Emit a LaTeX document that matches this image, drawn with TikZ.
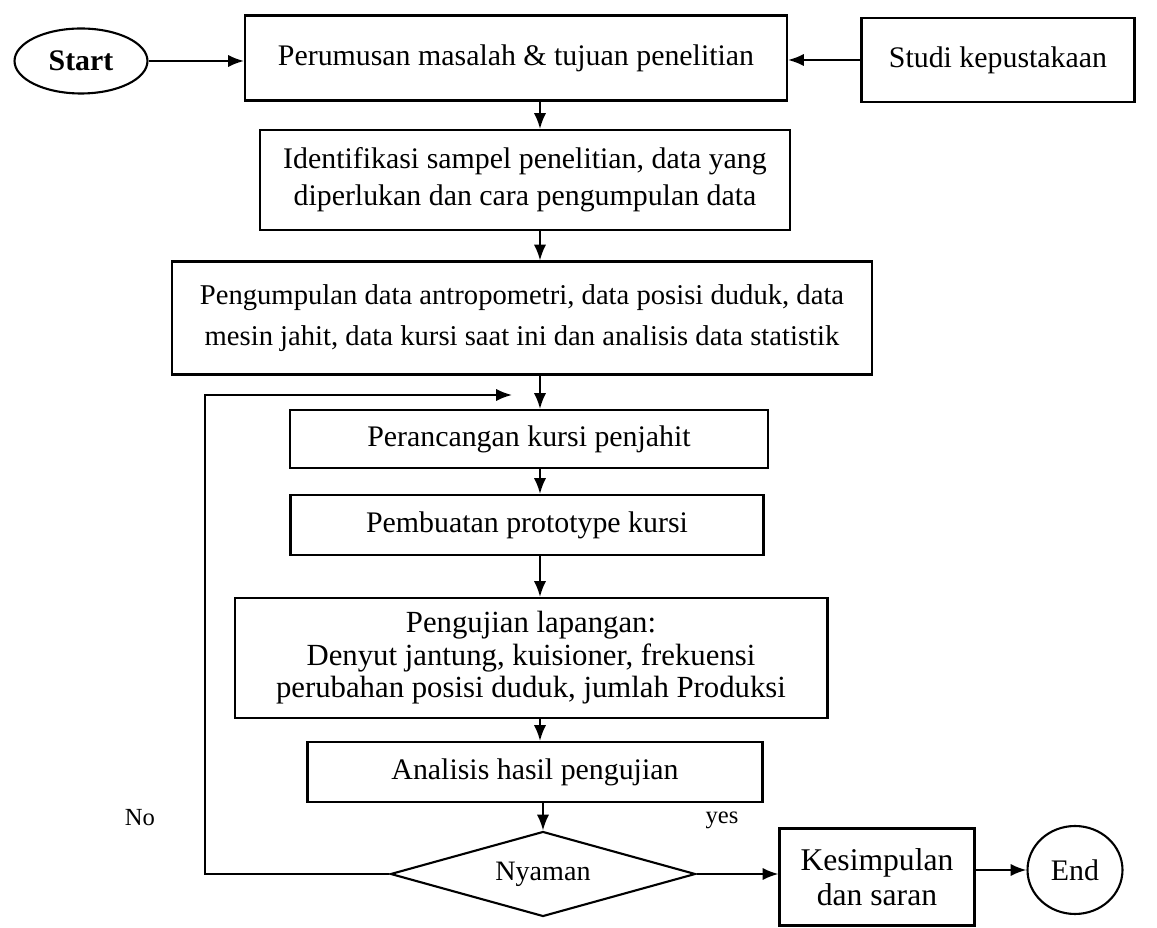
\documentclass[tikz,border=0pt]{standalone}
\usepackage{fontspec}
\setmainfont{Liberation Serif}
\usetikzlibrary{shapes.geometric,arrows.meta}
\begin{document}
\begin{tikzpicture}[x=0.02cm,y=-0.02cm,
  box/.style={draw,line width=1.2pt,align=center,inner sep=2pt,font=\fontsize{17}{21}\selectfont},
  term/.style={draw,ellipse,line width=1.2pt,inner sep=0pt,font=\fontsize{17}{20}\selectfont},
  dec/.style={draw,diamond,aspect=3.6,line width=1.2pt,inner sep=0pt,font=\fontsize{16}{19}\selectfont},
  arr/.style={line width=1.2pt,-{Latex[length=9pt,width=7pt]}},
  lbl/.style={font=\fontsize{14}{16}\selectfont}]
\useasboundingbox (0,0) rectangle (1157,928);
\coordinate (spine) at (540,0);
% terminals
\node[term,minimum width=2.66cm,minimum height=1.3cm,font=\fontsize{17}{20}\selectfont\bfseries] (start) at (81,61) {Start};
\node[term,minimum width=1.9cm,minimum height=1.76cm] (end) at (1075,870) {End};
% process boxes
\node[box,minimum width=10.84cm,minimum height=1.7cm] (b1) at (516,58) {Perumusan masalah \& tujuan penelitian};
\node[box,minimum width=5.46cm,minimum height=1.68cm] (studi) at (998,60) {Studi kepustakaan};
\node[box,minimum width=10.6cm,minimum height=2.0cm] (b2) at (525,180) {Identifikasi sampel penelitian, data yang\\diperlukan dan cara pengumpulan data};
\node[box,minimum width=14.0cm,minimum height=2.26cm,font=\fontsize{16.3}{23}\selectfont] (b3) at (522,318) {Pengumpulan data antropometri, data posisi duduk, data\\mesin jahit, data kursi saat ini dan analisis data statistik};
\node[box,minimum width=9.56cm,minimum height=1.16cm] (b4) at (529,439) {Perancangan kursi penjahit};
\node[box,minimum width=9.46cm,minimum height=1.2cm] (b5) at (527,525) {Pembuatan prototype kursi};
\node[box,minimum width=11.86cm,minimum height=2.4cm,font=\fontsize{17.5}{18.5}\selectfont] (b6) at (531,658) {Pengujian lapangan:\\Denyut jantung, kuisioner, frekuensi\\perubahan posisi duduk, jumlah Produksi};
\node[box,minimum width=9.1cm,minimum height=1.2cm] (b7) at (535,772) {Analisis hasil pengujian};
\node[dec,minimum width=6.1cm,minimum height=1.7cm] (dia) at (543,874) {Nyaman};
\node[box,minimum width=3.9cm,minimum height=1.94cm,font=\fontsize{18}{20}\selectfont] (kes) at (877,877) {Kesimpulan\\dan saran};
% labels
\node[lbl] (no) at (140,818) {No};
\node[lbl] (yes) at (722,820) {yes};
% loop coordinates
\coordinate (lp) at (205,395);
\coordinate (lt) at (512,395);
% connectors
\draw[arr] (start) -- (b1.west |- start);
\draw[arr] (studi.west) -- (b1.east |- studi.west);
\draw[arr] (b1.south -| spine) -- (b2.north -| spine);
\draw[arr] (b2.south -| spine) -- (b3.north -| spine);
\draw[arr] (b3.south -| spine) -- (b4.north -| spine);
\draw[arr] (b4.south -| spine) -- (b5.north -| spine);
\draw[arr] (b5.south -| spine) -- (b6.north -| spine);
\draw[arr] (b6.south -| spine) -- (b7.north -| spine);
\draw[arr] (b7.south -| dia.north) -- (dia.north);
\draw[arr] (dia.west) -| (lp) -- (lt);
\draw[arr] (dia.east) -- (kes.west |- dia.east);
\draw[arr] (kes.east |- end.west) -- (end.west);
\end{tikzpicture}
\end{document}
